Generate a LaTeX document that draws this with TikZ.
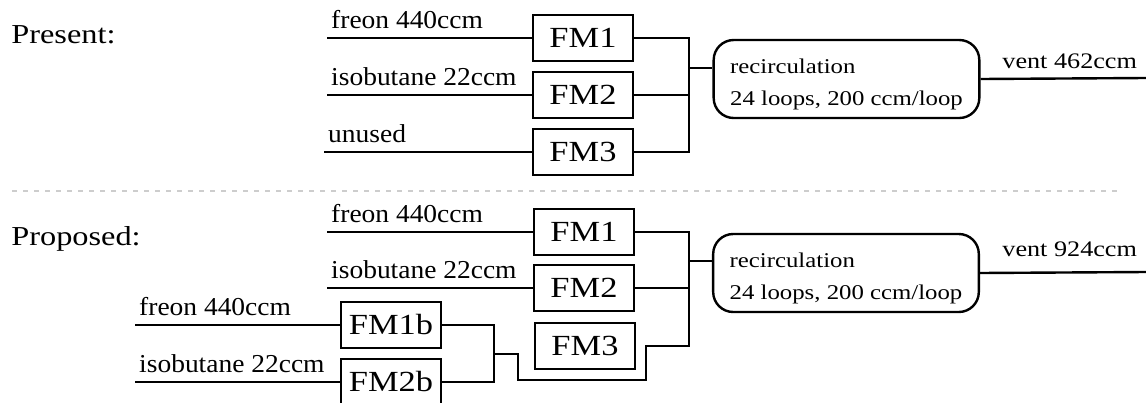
\documentclass[tikz,border=0pt]{standalone}
\usepackage{fontspec}
\setmainfont{Liberation Serif}[FakeStretch=1.065]
\newfontfamily\widefont{Liberation Serif}[FakeStretch=1.18]
\usepackage{tikz}
\usetikzlibrary{positioning, calc}
\definecolor{sepgray}{RGB}{205,205,205}
\tikzset{
  fm/.style={rectangle, draw, line width=1.2pt, minimum width=50pt, minimum height=23pt,
             inner sep=0pt, font=\widefont\fontsize{14.6}{15}\selectfont},
  recirc/.style={rectangle, rounded corners=10pt, draw, line width=1.2pt, align=left,
                 inner xsep=8.25pt, minimum width=131.5pt, minimum height=39pt,
                 font=\widefont\fontsize{10.5}{16}\selectfont},
  lbl/.style={anchor=south west, inner xsep=1.5pt, inner ysep=4pt, font=\fontsize{12.9}{14}\selectfont},
  heading/.style={anchor=base west, inner sep=0pt, font=\widefont\fontsize{13.7}{15}\selectfont},
  ventlabel/.style={anchor=base west, inner sep=0pt, font=\widefont\fontsize{11.1}{12}\selectfont},
  pipe/.style={line width=1.2pt},
  separator/.style={sepgray, line width=1pt, dash pattern=on 2.5pt off 3pt},
}
\newcommand{\recirctext}{\rule{0pt}{12.4pt}recirculation\\24 loops, 200 ccm/loop}

\begin{document}
\begin{tikzpicture}[x=0.5pt, y=-0.5pt]
\useasboundingbox (0,0) rectangle (1146,402);

% Present
\node[heading] (present) at (11,43) {Present:};
\node[fm] (fmA1) at (583,38) {FM1};
\node[fm] (fmA2) at (583,95) {FM2};
\node[fm] (fmA3) at (583,152) {FM3};
\node[recirc] (recA) at (846.5,79) {\recirctext};
\node[ventlabel] (ventA) at (1002,68) {vent 462ccm};
\coordinate (sA1) at (327,38);
\coordinate (sA2) at (327,95);
\coordinate (sA3) at (324,152);
\coordinate (busA) at (689,68);
\coordinate (vA) at (1146,78);

\draw[pipe] (sA1) node[lbl]{freon 440ccm} -- (fmA1);
\draw[pipe] (sA2) node[lbl]{isobutane 22ccm} -- (fmA2);
\draw[pipe] (sA3) node[lbl]{unused} -- (fmA3);
\draw[pipe] (fmA1.east) -| (busA) |- (fmA3.east);
\draw[pipe] (fmA2.east) -- (fmA2.east -| busA);
\draw[pipe] (busA) -- (busA -| recA.west);
\draw[pipe] (recA.east) -- (vA);

\draw[separator] (12,191) -- (1117,191);

% Proposed
\node[heading] (proposed) at (11,245) {Proposed:};
\node[fm] (fmB1) at (584,232) {FM1};
\node[fm] (fmB2) at (584,288) {FM2};
\node[fm] (fmB3) at (585,346) {FM3};
\node[fm] (fmB1b) at (391,325) {FM1b};
\node[fm] (fmB2b) at (391,382) {FM2b};
\node[recirc] (recB) at (846,273) {\recirctext};
\node[ventlabel] (ventB) at (1002,256) {vent 924ccm};
\coordinate (sB1) at (327,232);
\coordinate (sB2) at (327,288);
\coordinate (sB1b) at (135,325);
\coordinate (sB2b) at (135,382);
\coordinate (busB) at (689,261);
\coordinate (jB) at (494,354);
\coordinate (vB) at (1146,272);

\draw[pipe] (sB1) node[lbl]{freon 440ccm} -- (fmB1);
\draw[pipe] (sB2) node[lbl]{isobutane 22ccm} -- (fmB2);
\draw[pipe] (sB1b) node[lbl]{freon 440ccm} -- (fmB1b);
\draw[pipe] (sB2b) node[lbl]{isobutane 22ccm} -- (fmB2b);
\draw[pipe] (fmB1.east) -| (busB);
\draw[pipe] (fmB2.east) -- (fmB2.east -| busB);
\draw[pipe] (fmB1b.east) -| (jB) |- (fmB2b.east);
\draw[pipe] (jB) -| (518,380) -| (646,346) -| (busB);
\draw[pipe] (busB) -- (busB -| recB.west);
\draw[pipe] (recB.east) -- (vB);

\end{tikzpicture}
\end{document}
